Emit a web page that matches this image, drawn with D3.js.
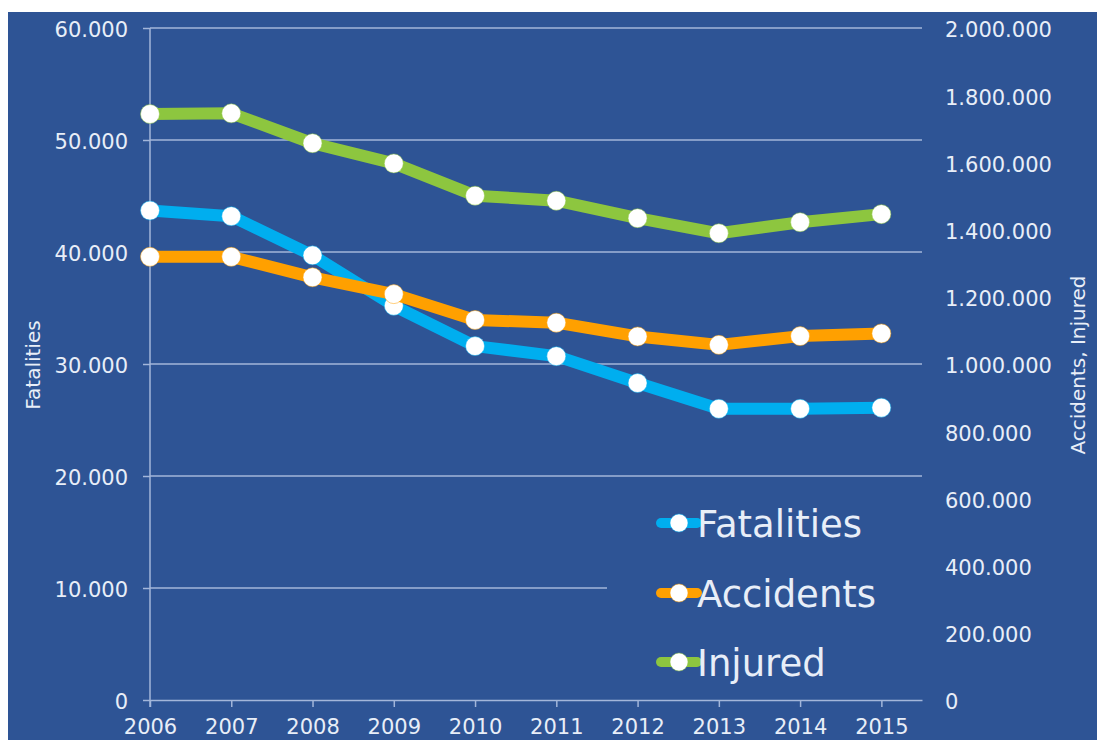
<!DOCTYPE html>
<html>
<head>
<meta charset="utf-8">
<script src="https://cdn.jsdelivr.net/npm/d3@7"></script>
<style>
  html, body { margin: 0; padding: 0; background: #ffffff; }
  svg { display: block; }
  text { font-family: "DejaVu Sans", sans-serif; fill: #e8eef8; }
</style>
</head>
<body>
<svg id="chart" width="1097" height="740"></svg>
<script>
// Road safety series, 2006–2015
const years = [2006, 2007, 2008, 2009, 2010, 2011, 2012, 2013, 2014, 2015];
const fatalities = [43700, 43200, 39700, 35200, 31600, 30700, 28300, 26000, 26000, 26100];
const accidents = [1319000, 1319000, 1258000, 1208000, 1131000, 1123000, 1082000, 1057000, 1083000, 1091000];
const injured = [1744000, 1746000, 1657000, 1597000, 1501000, 1486000, 1434000, 1389000, 1422000, 1446000];

const leftTicks = [0, 10000, 20000, 30000, 40000, 50000, 60000];
const rightTicks = [0, 200000, 400000, 600000, 800000, 1000000, 1200000, 1400000, 1600000, 1800000, 2000000];
const seriesNames = ["Fatalities", "Accidents", "Injured"];
const seriesColors = ["#00aeef", "#ffa000", "#8dc63f"];

const bg = "#2e5495";
const gridColor = "#a3b6da";

const svg = d3.select("#chart");
const plotLeft = 150, plotRight = 922, plotTop = 28, plotBottom = 700;

const locale = d3.formatLocale({ decimal: ",", thousands: ".", grouping: [3], currency: ["", ""] });
const fmt = locale.format(",d");

const x = d3.scaleLinear().domain([2006, 2015.5]).range([plotLeft, plotRight]);
const yL = d3.scaleLinear().domain([0, 60000]).range([plotBottom, plotTop]);
const yR = d3.scaleLinear().domain([0, 2000000]).range([plotBottom, plotTop]);

// Panel background
svg.append("rect").attr("x", 8).attr("y", 12).attr("width", 1097 - 8).attr("height", 740 - 12).attr("fill", bg);

// Horizontal gridlines
svg.append("g").selectAll("line")
  .data(leftTicks.filter(d => d > 0))
  .join("line")
  .attr("x1", plotLeft).attr("x2", plotRight)
  .attr("y1", d => yL(d)).attr("y2", d => yL(d))
  .attr("stroke", gridColor).attr("stroke-width", 1.5);

// Left axis
const gL = svg.append("g").attr("transform", `translate(${plotLeft},0)`)
  .call(d3.axisLeft(yL).tickValues(leftTicks).tickFormat(fmt).tickSize(7).tickPadding(15));
gL.select(".domain").attr("stroke", gridColor).attr("stroke-width", 1.5).attr("d", `M0,${plotTop}V${plotBottom + 7}`);
gL.selectAll(".tick line").attr("stroke", gridColor).attr("stroke-width", 1.5);
gL.selectAll(".tick text").attr("font-size", 21).attr("dy", "0.42em").style("fill", "#e8eef8");

// Right axis (labels only)
const gR = svg.append("g").attr("transform", `translate(${plotRight},0)`)
  .call(d3.axisRight(yR).tickValues(rightTicks).tickFormat(fmt).tickSize(0).tickPadding(23));
gR.select(".domain").remove();
gR.selectAll(".tick text").attr("font-size", 21).attr("dy", "0.42em").style("fill", "#e8eef8");

// Bottom axis
const gX = svg.append("g").attr("transform", `translate(0,${plotBottom})`)
  .call(d3.axisBottom(x).tickValues(years).tickFormat(d => String(d)).tickSize(7).tickPadding(12).tickSizeOuter(0));
gX.select(".domain").attr("stroke", gridColor).attr("stroke-width", 1.5);
gX.selectAll(".tick line").attr("stroke", gridColor).attr("stroke-width", 1.5);
gX.selectAll(".tick text").attr("font-size", 21).style("fill", "#e8eef8");

// Axis titles
svg.append("text")
  .attr("transform", `translate(40,365) rotate(-90)`)
  .attr("text-anchor", "middle").attr("font-size", 20)
  .text("Fatalities");
svg.append("text")
  .attr("transform", `translate(1085,365) rotate(-90)`)
  .attr("text-anchor", "middle").attr("font-size", 20)
  .text("Accidents, Injured");

// Series lines with markers
const series = [
  { values: fatalities, scale: yL },
  { values: accidents, scale: yR },
  { values: injured, scale: yR }
];

series.forEach((s, i) => {
  const pts = years.map((yr, k) => [x(yr), s.scale(s.values[k])]);
  svg.append("path")
    .attr("d", d3.line()(pts))
    .attr("fill", "none")
    .attr("stroke", seriesColors[i])
    .attr("stroke-width", 12)
    .attr("stroke-linejoin", "round");
  svg.append("g").selectAll("circle")
    .data(pts)
    .join("circle")
    .attr("cx", d => d[0]).attr("cy", d => d[1])
    .attr("r", 9.5)
    .attr("fill", "#ffffff")
    .attr("stroke", seriesColors[i]).attr("stroke-opacity", 0.5).attr("stroke-width", 1);
});

// Legend
const legend = svg.append("g");
legend.append("rect").attr("x", 607).attr("y", 488).attr("width", 318).attr("height", 205).attr("fill", bg);
const legendY = [523, 593, 662];
seriesNames.forEach((name, i) => {
  const g = legend.append("g").attr("transform", `translate(0,${legendY[i]})`);
  g.append("line").attr("x1", 661).attr("x2", 697).attr("y1", 0).attr("y2", 0)
    .attr("stroke", seriesColors[i]).attr("stroke-width", 10).attr("stroke-linecap", "round");
  g.append("circle").attr("cx", 679).attr("cy", 0).attr("r", 9)
    .attr("fill", "#ffffff").attr("stroke", seriesColors[i]).attr("stroke-opacity", 0.5).attr("stroke-width", 1);
  g.append("text").attr("x", 697).attr("y", 14).attr("font-size", 37).text(name);
});
</script>
</body>
</html>
